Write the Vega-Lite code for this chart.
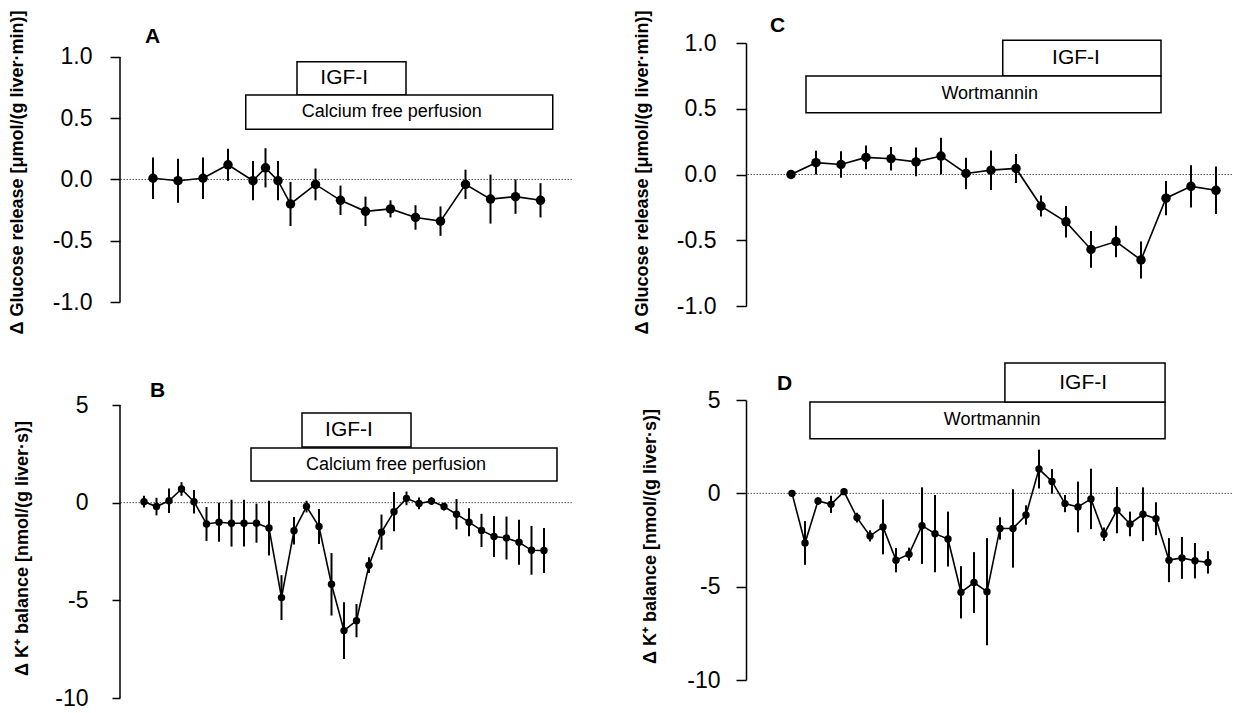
{
"$schema": "https://vega.github.io/schema/vega-lite/v6.json",
"background": "white",
"padding": {"left": 7, "top": 9, "right": 5, "bottom": 5},
"bounds": "flush",
"columns": 2,
"spacing": {"row": 94, "column": 174},
"config": {"view": {"stroke": null}, "font": "Liberation Sans"},
"datasets": {
"a": [
{"t":0,"v":0.01,"lo":-0.16,"hi":0.18},{"t":2,"v":-0.01,"lo":-0.19,"hi":0.17},{"t":4,"v":0.01,"lo":-0.16,"hi":0.18},{"t":6,"v":0.12,"lo":-0.01,"hi":0.25},
{"t":8,"v":-0.01,"lo":-0.17,"hi":0.15},{"t":9,"v":0.095,"lo":-0.065,"hi":0.255},{"t":10,"v":-0.01,"lo":-0.17,"hi":0.15},{"t":11,"v":-0.2,"lo":-0.38,"hi":-0.02},
{"t":13,"v":-0.04,"lo":-0.17,"hi":0.09},{"t":15,"v":-0.17,"lo":-0.29,"hi":-0.05},{"t":17,"v":-0.26,"lo":-0.38,"hi":-0.14},{"t":19,"v":-0.24,"lo":-0.31,"hi":-0.17},
{"t":21,"v":-0.31,"lo":-0.41,"hi":-0.21},{"t":23,"v":-0.34,"lo":-0.46,"hi":-0.22},{"t":25,"v":-0.04,"lo":-0.16,"hi":0.08},{"t":27,"v":-0.16,"lo":-0.36,"hi":0.04},
{"t":29,"v":-0.14,"lo":-0.28,"hi":0.0},{"t":31,"v":-0.17,"lo":-0.31,"hi":-0.03}
],
"b": [
{"t":0,"v":0.05,"lo":-0.25,"hi":0.35},{"t":1,"v":-0.2,"lo":-0.65,"hi":0.25},{"t":2,"v":0.1,"lo":-0.53,"hi":0.73},{"t":3,"v":0.7,"lo":0.35,"hi":1.05},
{"t":4,"v":0.05,"lo":-0.55,"hi":0.65},{"t":5,"v":-1.09,"lo":-1.96,"hi":-0.22},{"t":6,"v":-1.0,"lo":-2.0,"hi":0.0},{"t":7,"v":-1.05,"lo":-2.25,"hi":0.15},
{"t":8,"v":-1.05,"lo":-2.25,"hi":0.15},{"t":9,"v":-1.05,"lo":-2.05,"hi":-0.05},{"t":10,"v":-1.3,"lo":-2.7,"hi":0.1},{"t":11,"v":-4.86,"lo":-6.01,"hi":-3.71},
{"t":12,"v":-1.44,"lo":-2.14,"hi":-0.74},{"t":13,"v":-0.2,"lo":-0.5,"hi":0.1},{"t":14,"v":-1.22,"lo":-2.12,"hi":-0.32},{"t":15,"v":-4.18,"lo":-5.78,"hi":-2.58},
{"t":16,"v":-6.55,"lo":-8.0,"hi":-5.1},{"t":17,"v":-6.04,"lo":-6.89,"hi":-5.19},{"t":18,"v":-3.2,"lo":-3.6,"hi":-2.8},{"t":19,"v":-1.51,"lo":-2.41,"hi":-0.61},
{"t":20,"v":-0.46,"lo":-1.46,"hi":0.54},{"t":21,"v":0.22,"lo":-0.13,"hi":0.57},{"t":22,"v":-0.04,"lo":-0.34,"hi":0.26},{"t":23,"v":0.08,"lo":-0.12,"hi":0.28},
{"t":24,"v":-0.2,"lo":-0.4,"hi":0.0},{"t":25,"v":-0.59,"lo":-1.37,"hi":0.19},{"t":26,"v":-1.0,"lo":-1.72,"hi":-0.28},{"t":27,"v":-1.42,"lo":-2.27,"hi":-0.57},
{"t":28,"v":-1.73,"lo":-2.78,"hi":-0.68},{"t":29,"v":-1.81,"lo":-2.91,"hi":-0.71},{"t":30,"v":-2.03,"lo":-3.18,"hi":-0.88},{"t":31,"v":-2.44,"lo":-3.69,"hi":-1.19},
{"t":32,"v":-2.45,"lo":-3.6,"hi":-1.3}
],
"c": [
{"t":0,"v":0.0,"lo":-0.02,"hi":0.02},{"t":1,"v":0.09,"lo":0.0,"hi":0.18},{"t":2,"v":0.076,"lo":-0.024,"hi":0.176},{"t":3,"v":0.13,"lo":0.04,"hi":0.22},
{"t":4,"v":0.12,"lo":0.03,"hi":0.21},{"t":5,"v":0.096,"lo":-0.014,"hi":0.206},{"t":6,"v":0.14,"lo":0.0,"hi":0.28},{"t":7,"v":0.008,"lo":-0.112,"hi":0.128},
{"t":8,"v":0.033,"lo":-0.117,"hi":0.183},{"t":9,"v":0.046,"lo":-0.064,"hi":0.156},{"t":10,"v":-0.24,"lo":-0.32,"hi":-0.16},{"t":11,"v":-0.36,"lo":-0.48,"hi":-0.24},
{"t":12,"v":-0.57,"lo":-0.71,"hi":-0.43},{"t":13,"v":-0.51,"lo":-0.63,"hi":-0.39},{"t":14,"v":-0.65,"lo":-0.79,"hi":-0.51},{"t":15,"v":-0.18,"lo":-0.31,"hi":-0.05},
{"t":16,"v":-0.09,"lo":-0.25,"hi":0.07},{"t":17,"v":-0.12,"lo":-0.3,"hi":0.06}
],
"d": [
{"t":0,"v":0.0,"lo":-0.1,"hi":0.1},{"t":1,"v":-2.66,"lo":-3.83,"hi":-1.49},{"t":2,"v":-0.41,"lo":-0.61,"hi":-0.21},{"t":3,"v":-0.59,"lo":-1.05,"hi":-0.13},
{"t":4,"v":0.09,"lo":-0.06,"hi":0.24},{"t":5,"v":-1.3,"lo":-1.56,"hi":-1.04},{"t":6,"v":-2.28,"lo":-2.58,"hi":-1.98},{"t":7,"v":-1.8,"lo":-3.27,"hi":-0.33},
{"t":8,"v":-3.58,"lo":-4.23,"hi":-2.93},{"t":9,"v":-3.26,"lo":-3.61,"hi":-2.91},{"t":10,"v":-1.73,"lo":-3.78,"hi":0.32},{"t":11,"v":-2.16,"lo":-4.23,"hi":-0.09},
{"t":12,"v":-2.45,"lo":-3.92,"hi":-0.98},{"t":13,"v":-5.3,"lo":-6.7,"hi":-3.9},{"t":14,"v":-4.78,"lo":-6.41,"hi":-3.15},{"t":15,"v":-5.27,"lo":-8.14,"hi":-2.4},
{"t":16,"v":-1.88,"lo":-2.48,"hi":-1.28},{"t":17,"v":-1.88,"lo":-3.98,"hi":0.22},{"t":18,"v":-1.16,"lo":-1.68,"hi":-0.64},{"t":19,"v":1.3,"lo":0.26,"hi":2.34},
{"t":20,"v":0.64,"lo":-0.02,"hi":1.3},{"t":21,"v":-0.55,"lo":-1.01,"hi":-0.09},{"t":22,"v":-0.73,"lo":-2.09,"hi":0.63},{"t":23,"v":-0.3,"lo":-1.92,"hi":1.32},
{"t":24,"v":-2.19,"lo":-2.55,"hi":-1.83},{"t":25,"v":-0.9,"lo":-2.14,"hi":0.34},{"t":26,"v":-1.64,"lo":-2.3,"hi":-0.98},{"t":27,"v":-1.12,"lo":-2.56,"hi":0.32},
{"t":28,"v":-1.36,"lo":-2.24,"hi":-0.48},{"t":29,"v":-3.58,"lo":-4.76,"hi":-2.4},{"t":30,"v":-3.46,"lo":-4.58,"hi":-2.34},{"t":31,"v":-3.61,"lo":-4.56,"hi":-2.66},
{"t":32,"v":-3.7,"lo":-4.3,"hi":-3.1}
],
"boxes": [
{"panel":"A","label":"IGF-I","x1":11.52,"x2":20.24,"y1":0.69,"y2":0.96,"tx":15.3,"ty":0.825},
{"panel":"A","label":"Calcium free perfusion","x1":7.42,"x2":31.98,"y1":0.41,"y2":0.69,"tx":19.1,"ty":0.55},
{"panel":"B","label":"IGF-I","x1":12.64,"x2":21.36,"y1":2.85,"y2":4.59,"tx":16.4,"ty":3.72},
{"panel":"B","label":"Calcium free perfusion","x1":8.56,"x2":33.04,"y1":1.11,"y2":2.8,"tx":20.16,"ty":1.95},
{"panel":"C","label":"IGF-I","x1":8.47,"x2":14.8,"y1":0.749,"y2":1.02,"tx":11.4,"ty":0.885},
{"panel":"C","label":"Wortmannin","x1":0.6,"x2":14.8,"y1":0.47,"y2":0.749,"tx":7.95,"ty":0.61},
{"panel":"D","label":"Wortmannin","x1":1.38,"x2":28.7,"y1":2.93,"y2":4.89,"tx":15.4,"ty":3.91},
{"panel":"D","label":"IGF-I","x1":16.38,"x2":28.7,"y1":4.89,"y2":6.98,"tx":22.4,"ty":5.93}
],
"letters": [
{"panel":"A","label":"A","x":-0.64,"y":1.114},
{"panel":"B","label":"B","x":0.48,"y":5.41},
{"panel":"C","label":"C","x":-0.84,"y":1.086},
{"panel":"D","label":"D","x":-1.15,"y":5.54}
]
},
"concat": [
{
"width": 452, "height": 259,
"resolve": {"axis": {"y": "independent", "x": "independent"}},
"layer": [
{"data": {"values": [{"z": 0}]}, "mark": {"type": "rule", "color": "#555", "strokeWidth": 1, "strokeDash": [1.5, 1.5]}, "encoding": {"y": {"field": "z", "type": "quantitative", "axis": null}}},
{"data": {"values": [{"x0": -2.64, "ylo": -1, "yhi": 1}]}, "mark": {"type": "rule", "color": "black", "strokeWidth": 1.5}, "encoding": {"x": {"field": "x0", "type": "quantitative", "axis": null}, "y": {"field": "ylo", "type": "quantitative", "axis": null}, "y2": {"field": "yhi"}}},
{"data": {"name": "letters"}, "transform": [{"filter": "datum.panel == 'A'"}], "mark": {"type": "text", "fontSize": 21, "fontWeight": "bold", "font": "Liberation Sans", "color": "black", "align": "left", "baseline": "alphabetic"}, "encoding": {"x": {"field": "x", "type": "quantitative", "axis": null}, "y": {"field": "y", "type": "quantitative", "axis": null}, "text": {"field": "label"}}},
{"data": {"name": "boxes"}, "transform": [{"filter": "datum.panel == 'A'"}], "mark": {"type": "rect", "fill": "white", "stroke": "black", "strokeWidth": 1.5}, "encoding": {"x": {"field": "x1", "type": "quantitative", "axis": null}, "x2": {"field": "x2"}, "y": {"field": "y1", "type": "quantitative", "axis": null}, "y2": {"field": "y2"}}},
{"data": {"name": "boxes"}, "transform": [{"filter": "datum.panel == 'A' && datum.label == 'IGF-I'"}], "mark": {"type": "text", "fontSize": 21, "font": "Liberation Sans", "color": "black"}, "encoding": {"x": {"field": "tx", "type": "quantitative", "axis": null}, "y": {"field": "ty", "type": "quantitative", "axis": null}, "text": {"field": "label"}}},
{"data": {"name": "boxes"}, "transform": [{"filter": "datum.panel == 'A' && datum.label != 'IGF-I'"}], "mark": {"type": "text", "fontSize": 18, "font": "Liberation Sans", "color": "black"}, "encoding": {"x": {"field": "tx", "type": "quantitative", "axis": null}, "y": {"field": "ty", "type": "quantitative", "axis": null}, "text": {"field": "label"}}},
{"data": {"name": "a"}, "mark": {"type": "rule", "color": "black", "strokeWidth": 2}, "encoding": {"x": {"field": "t", "type": "quantitative", "axis": null}, "y": {"field": "lo", "type": "quantitative", "axis": null}, "y2": {"field": "hi"}}},
{"data": {"name": "a"}, "mark": {"type": "line", "color": "black", "strokeWidth": 1.6}, "encoding": {"x": {"field": "t", "type": "quantitative", "axis": null}, "y": {"field": "v", "type": "quantitative", "axis": null}}},
{"data": {"name": "a"}, "mark": {"type": "point", "filled": true, "color": "black", "opacity": 1, "size": 90}, "encoding": {
"x": {"field": "t", "type": "quantitative", "axis": null, "scale": {"domain": [-2.64, 33.52], "nice": false, "zero": false}},
"y": {"field": "v", "type": "quantitative", "scale": {"domain": [-1, 1.114], "nice": false, "zero": false},
"axis": {"title": "Δ Glucose release [μmol/(g liver·min)]", "values": [-1, -0.5, 0, 0.5, 1], "domain": false, "grid": false, "tickSize": 10, "tickWidth": 1.5, "tickColor": "black", "labelFont": "Liberation Sans", "labelFontSize": 23, "labelColor": "black", "labelPadding": 18, "labelExpr": "datum.value < 0 ? '-' + format(-datum.value, '.1f') : format(datum.value, '.1f')", "titleFont": "Liberation Sans", "titleFontSize": 18, "titleFontWeight": "bold", "titleColor": "black", "titleAngle": -90, "titleAlign": "center", "titleBaseline": "middle", "titleX": -103, "titleY": 129}}}}
]
},
{
"width": 486, "height": 263,
"resolve": {"axis": {"y": "independent", "x": "independent"}},
"layer": [
{"data": {"values": [{"z": 0}]}, "mark": {"type": "rule", "color": "#555", "strokeWidth": 1, "strokeDash": [1.5, 1.5]}, "encoding": {"y": {"field": "z", "type": "quantitative", "axis": null}}},
{"data": {"name": "letters"}, "transform": [{"filter": "datum.panel == 'C'"}], "mark": {"type": "text", "fontSize": 21, "fontWeight": "bold", "font": "Liberation Sans", "color": "black", "align": "left", "baseline": "alphabetic"}, "encoding": {"x": {"field": "x", "type": "quantitative", "axis": null}, "y": {"field": "y", "type": "quantitative", "axis": null}, "text": {"field": "label"}}},
{"data": {"name": "boxes"}, "transform": [{"filter": "datum.panel == 'C'"}], "mark": {"type": "rect", "fill": "white", "stroke": "black", "strokeWidth": 1.5}, "encoding": {"x": {"field": "x1", "type": "quantitative", "axis": null}, "x2": {"field": "x2"}, "y": {"field": "y1", "type": "quantitative", "axis": null}, "y2": {"field": "y2"}}},
{"data": {"name": "boxes"}, "transform": [{"filter": "datum.panel == 'C' && datum.label == 'IGF-I'"}], "mark": {"type": "text", "fontSize": 21, "font": "Liberation Sans", "color": "black"}, "encoding": {"x": {"field": "tx", "type": "quantitative", "axis": null}, "y": {"field": "ty", "type": "quantitative", "axis": null}, "text": {"field": "label"}}},
{"data": {"name": "boxes"}, "transform": [{"filter": "datum.panel == 'C' && datum.label != 'IGF-I'"}], "mark": {"type": "text", "fontSize": 18, "font": "Liberation Sans", "color": "black"}, "encoding": {"x": {"field": "tx", "type": "quantitative", "axis": null}, "y": {"field": "ty", "type": "quantitative", "axis": null}, "text": {"field": "label"}}},
{"data": {"name": "c"}, "mark": {"type": "rule", "color": "black", "strokeWidth": 2}, "encoding": {"x": {"field": "t", "type": "quantitative", "axis": null}, "y": {"field": "lo", "type": "quantitative", "axis": null}, "y2": {"field": "hi"}}},
{"data": {"name": "c"}, "mark": {"type": "line", "color": "black", "strokeWidth": 1.6}, "encoding": {"x": {"field": "t", "type": "quantitative", "axis": null}, "y": {"field": "v", "type": "quantitative", "axis": null}}},
{"data": {"name": "c"}, "mark": {"type": "point", "filled": true, "color": "black", "opacity": 1, "size": 90}, "encoding": {
"x": {"field": "t", "type": "quantitative", "axis": null, "scale": {"domain": [-1.8, 17.64], "nice": false, "zero": false}},
"y": {"field": "v", "type": "quantitative", "scale": {"domain": [-1, 1], "nice": false, "zero": false},
"axis": {"title": "Δ Glucose release [μmol/(g liver·min)]", "values": [-1, -0.5, 0, 0.5, 1], "domain": true, "domainColor": "black", "domainWidth": 1.5, "grid": false, "tickSize": 10, "tickWidth": 1.5, "tickColor": "black", "labelFont": "Liberation Sans", "labelFontSize": 23, "labelColor": "black", "labelPadding": 20, "labelExpr": "datum.value < 0 ? '-' + format(-datum.value, '.1f') : format(datum.value, '.1f')", "titleFont": "Liberation Sans", "titleFontSize": 18, "titleFontWeight": "bold", "titleColor": "black", "titleAngle": -90, "titleAlign": "center", "titleBaseline": "middle", "titleX": -104, "titleY": 129}}}}
]
},
{
"width": 452, "height": 298,
"resolve": {"axis": {"y": "independent", "x": "independent"}},
"layer": [
{"data": {"values": [{"z": 0}]}, "mark": {"type": "rule", "color": "#555", "strokeWidth": 1, "strokeDash": [1.5, 1.5]}, "encoding": {"y": {"field": "z", "type": "quantitative", "axis": null}}},
{"data": {"values": [{"x0": -1.92, "ylo": -10, "yhi": 5}]}, "mark": {"type": "rule", "color": "black", "strokeWidth": 1.5}, "encoding": {"x": {"field": "x0", "type": "quantitative", "axis": null}, "y": {"field": "ylo", "type": "quantitative", "axis": null}, "y2": {"field": "yhi"}}},
{"data": {"name": "letters"}, "transform": [{"filter": "datum.panel == 'B'"}], "mark": {"type": "text", "fontSize": 21, "fontWeight": "bold", "font": "Liberation Sans", "color": "black", "align": "left", "baseline": "alphabetic"}, "encoding": {"x": {"field": "x", "type": "quantitative", "axis": null}, "y": {"field": "y", "type": "quantitative", "axis": null}, "text": {"field": "label"}}},
{"data": {"name": "boxes"}, "transform": [{"filter": "datum.panel == 'B'"}], "mark": {"type": "rect", "fill": "white", "stroke": "black", "strokeWidth": 1.5}, "encoding": {"x": {"field": "x1", "type": "quantitative", "axis": null}, "x2": {"field": "x2"}, "y": {"field": "y1", "type": "quantitative", "axis": null}, "y2": {"field": "y2"}}},
{"data": {"name": "boxes"}, "transform": [{"filter": "datum.panel == 'B' && datum.label == 'IGF-I'"}], "mark": {"type": "text", "fontSize": 21, "font": "Liberation Sans", "color": "black"}, "encoding": {"x": {"field": "tx", "type": "quantitative", "axis": null}, "y": {"field": "ty", "type": "quantitative", "axis": null}, "text": {"field": "label"}}},
{"data": {"name": "boxes"}, "transform": [{"filter": "datum.panel == 'B' && datum.label != 'IGF-I'"}], "mark": {"type": "text", "fontSize": 18, "font": "Liberation Sans", "color": "black"}, "encoding": {"x": {"field": "tx", "type": "quantitative", "axis": null}, "y": {"field": "ty", "type": "quantitative", "axis": null}, "text": {"field": "label"}}},
{"data": {"name": "b"}, "mark": {"type": "rule", "color": "black", "strokeWidth": 2}, "encoding": {"x": {"field": "t", "type": "quantitative", "axis": null}, "y": {"field": "lo", "type": "quantitative", "axis": null}, "y2": {"field": "hi"}}},
{"data": {"name": "b"}, "mark": {"type": "line", "color": "black", "strokeWidth": 1.6}, "encoding": {"x": {"field": "t", "type": "quantitative", "axis": null}, "y": {"field": "v", "type": "quantitative", "axis": null}}},
{"data": {"name": "b"}, "mark": {"type": "point", "filled": true, "color": "black", "opacity": 1, "size": 55}, "encoding": {
"x": {"field": "t", "type": "quantitative", "axis": null, "scale": {"domain": [-1.92, 34.24], "nice": false, "zero": false}},
"y": {"field": "v", "type": "quantitative", "scale": {"domain": [-10, 5.256], "nice": false, "zero": false},
"axis": {"title": "Δ K⁺ balance [nmol/(g liver·s)]", "values": [-10, -5, 0, 5], "domain": false, "grid": false, "tickSize": 8, "tickWidth": 1.5, "tickColor": "black", "labelFont": "Liberation Sans", "labelFontSize": 23, "labelColor": "black", "labelPadding": 24, "labelExpr": "datum.value < 0 ? '-' + format(-datum.value, 'd') : format(datum.value, 'd')", "titleFont": "Liberation Sans", "titleFontSize": 18, "titleFontWeight": "bold", "titleColor": "black", "titleAngle": -90, "titleAlign": "center", "titleBaseline": "middle", "titleX": -98, "titleY": 148}}}}
]
},
{
"width": 486, "height": 280,
"resolve": {"axis": {"y": "independent", "x": "independent"}},
"layer": [
{"data": {"values": [{"z": 0}]}, "mark": {"type": "rule", "color": "#555", "strokeWidth": 1, "strokeDash": [1.5, 1.5]}, "encoding": {"y": {"field": "z", "type": "quantitative", "axis": null}}},
{"data": {"name": "letters"}, "transform": [{"filter": "datum.panel == 'D'"}], "mark": {"type": "text", "fontSize": 21, "fontWeight": "bold", "font": "Liberation Sans", "color": "black", "align": "left", "baseline": "alphabetic"}, "encoding": {"x": {"field": "x", "type": "quantitative", "axis": null}, "y": {"field": "y", "type": "quantitative", "axis": null}, "text": {"field": "label"}}},
{"data": {"name": "boxes"}, "transform": [{"filter": "datum.panel == 'D'"}], "mark": {"type": "rect", "fill": "white", "stroke": "black", "strokeWidth": 1.5}, "encoding": {"x": {"field": "x1", "type": "quantitative", "axis": null}, "x2": {"field": "x2"}, "y": {"field": "y1", "type": "quantitative", "axis": null}, "y2": {"field": "y2"}}},
{"data": {"name": "boxes"}, "transform": [{"filter": "datum.panel == 'D' && datum.label == 'IGF-I'"}], "mark": {"type": "text", "fontSize": 21, "font": "Liberation Sans", "color": "black"}, "encoding": {"x": {"field": "tx", "type": "quantitative", "axis": null}, "y": {"field": "ty", "type": "quantitative", "axis": null}, "text": {"field": "label"}}},
{"data": {"name": "boxes"}, "transform": [{"filter": "datum.panel == 'D' && datum.label != 'IGF-I'"}], "mark": {"type": "text", "fontSize": 18, "font": "Liberation Sans", "color": "black"}, "encoding": {"x": {"field": "tx", "type": "quantitative", "axis": null}, "y": {"field": "ty", "type": "quantitative", "axis": null}, "text": {"field": "label"}}},
{"data": {"name": "d"}, "mark": {"type": "rule", "color": "black", "strokeWidth": 2}, "encoding": {"x": {"field": "t", "type": "quantitative", "axis": null}, "y": {"field": "lo", "type": "quantitative", "axis": null}, "y2": {"field": "hi"}}},
{"data": {"name": "d"}, "mark": {"type": "line", "color": "black", "strokeWidth": 1.6}, "encoding": {"x": {"field": "t", "type": "quantitative", "axis": null}, "y": {"field": "v", "type": "quantitative", "axis": null}}},
{"data": {"name": "d"}, "mark": {"type": "point", "filled": true, "color": "black", "opacity": 1, "size": 55}, "encoding": {
"x": {"field": "t", "type": "quantitative", "axis": null, "scale": {"domain": [-3.54, 33.85], "nice": false, "zero": false}},
"y": {"field": "v", "type": "quantitative", "scale": {"domain": [-10, 5], "nice": false, "zero": false},
"axis": {"title": "Δ K⁺ balance [nmol/(g liver·s)]", "values": [-10, -5, 0, 5], "domain": true, "domainColor": "black", "domainWidth": 1.5, "grid": false, "tickSize": 10, "tickWidth": 1.5, "tickColor": "black", "labelFont": "Liberation Sans", "labelFontSize": 23, "labelColor": "black", "labelPadding": 16, "labelExpr": "datum.value < 0 ? '-' + format(-datum.value, 'd') : format(datum.value, 'd')", "titleFont": "Liberation Sans", "titleFontSize": 18, "titleFontWeight": "bold", "titleColor": "black", "titleAngle": -90, "titleAlign": "center", "titleBaseline": "middle", "titleX": -96, "titleY": 136}}}}
]
}
]
}
